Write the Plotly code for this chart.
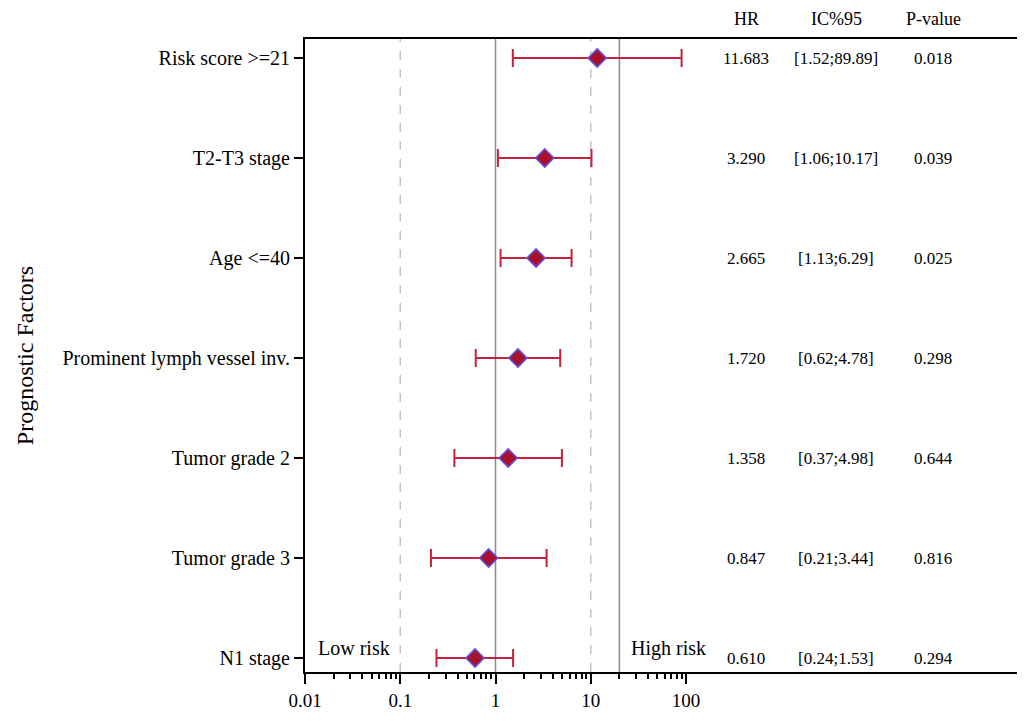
import numpy as np
import plotly.graph_objects as go

factors = ["Risk score >=21", "T2-T3 stage", "Age <=40", "Prominent lymph vessel inv.",
           "Tumor grade 2", "Tumor grade 3", "N1 stage"]
hr = [11.683, 3.290, 2.665, 1.720, 1.358, 0.847, 0.610]
ci_low = [1.52, 1.06, 1.13, 0.62, 0.37, 0.21, 0.24]
ci_high = [89.89, 10.17, 6.29, 4.78, 4.98, 3.44, 1.53]
pvals = [0.018, 0.039, 0.025, 0.298, 0.644, 0.816, 0.294]
ci_text = ["[1.52;89.89]", "[1.06;10.17]", "[1.13;6.29]", "[0.62;4.78]",
           "[0.37;4.98]", "[0.21;3.44]", "[0.24;1.53]"]
hr_text = ["11.683", "3.290", "2.665", "1.720", "1.358", "0.847", "0.610"]
p_text = ["0.018", "0.039", "0.025", "0.298", "0.644", "0.816", "0.294"]
table_headers = ["HR", "IC%95", "P-value"]
x_tickvals = [0.01, 0.1, 1, 10, 100]
x_ticktext = ["0.01", "0.1", "1", "10", "100"]
ref_solid = [1, 20]
ref_dashed = [0.1, 10]
risk_labels = ["Low risk", "High risk"]

FONT = "Liberation Serif"
OFF = 8  # page body margin
W, H = 1025 - OFF, 721 - OFF
L, R, T, B = 305 - OFF, 0, 39 - OFF, 49
pw = W - L - R
dec = 95.25
xmax = -2 + pw / dec

ypos = list(range(len(factors)))
hr_a = np.array(hr)
err_plus = np.array(ci_high) - hr_a
err_minus = hr_a - np.array(ci_low)

fig = go.Figure()
fig.add_trace(go.Scatter(
    x=hr, y=ypos, mode="markers",
    marker=dict(symbol="diamond", size=14, color="#A8102E",
                line=dict(color="#5B55E0", width=1.5)),
    error_x=dict(type="data", symmetric=False, array=err_plus, arrayminus=err_minus,
                 color="#C8203C", thickness=2, width=9),
    showlegend=False, hoverinfo="skip"))

shapes = []
for v in ref_solid:
    shapes.append(dict(type="line", xref="x", yref="paper", x0=v, x1=v,
                       y0=0, y1=1, line=dict(color="#8a8a8a", width=1.5), layer="below"))
for v in ref_dashed:
    shapes.append(dict(type="line", xref="x", yref="paper", x0=v, x1=v,
                       y0=0, y1=1, line=dict(color="#c4c4c4", width=1.5, dash="dash"), layer="below"))

def px_to_paper(px):
    return (px - OFF - L) / pw

annotations = []
col_x = [746, 836, 933]
for cx, h in zip(col_x, table_headers):
    annotations.append(dict(x=px_to_paper(cx), y=1, xref="paper", yref="paper", yanchor="bottom",
                            xanchor="center", yshift=8, text=h, showarrow=False,
                            font=dict(family=FONT, size=18, color="black")))
for i in range(len(factors)):
    for cx, txt in zip(col_x, [hr_text[i], ci_text[i], p_text[i]]):
        annotations.append(dict(x=px_to_paper(cx), y=i, xref="paper", yref="y", text=txt,
                                xanchor="center", showarrow=False,
                                font=dict(family=FONT, size=17, color="black")))
annotations.append(dict(x=px_to_paper(316), y=5.9, xref="paper", yref="y", xanchor="left",
                        text=risk_labels[0], showarrow=False,
                        font=dict(family=FONT, size=20, color="black")))
annotations.append(dict(x=px_to_paper(629), y=5.9, xref="paper", yref="y", xanchor="left",
                        text=risk_labels[1], showarrow=False,
                        font=dict(family=FONT, size=20, color="black")))

minor_vals = []
for d in [0.01, 0.1, 1, 10]:
    for k in range(2, 10):
        minor_vals.append(d * k)

fig.update_layout(
    width=W, height=H,
    margin=dict(l=L, r=R, t=T, b=B, autoexpand=False),
    plot_bgcolor="white", paper_bgcolor="white",
    shapes=shapes, annotations=annotations,
    xaxis=dict(type="log", range=[-2, xmax], tickmode="array", tickvals=x_tickvals,
               ticktext=x_ticktext, ticks="outside", ticklen=10, tickwidth=2, tickcolor="black",
               showline=True, linecolor="black", linewidth=2, mirror=True,
               showgrid=False, zeroline=False, automargin=False,
               tickfont=dict(family=FONT, size=19, color="black"),
               minor=dict(tickmode="array", tickvals=minor_vals, ticks="outside",
                          ticklen=5, tickwidth=1.5, tickcolor="black", showgrid=False)),
    yaxis=dict(range=[6.14, -0.19], tickmode="array", tickvals=ypos, ticktext=factors,
               ticks="outside", ticklen=9, tickwidth=1.5, tickcolor="black",
               showline=True, linecolor="black", linewidth=2, mirror=False,
               showgrid=False, zeroline=False, automargin=False,
               tickfont=dict(family=FONT, size=20, color="black"),
               title=dict(text="Prognostic Factors", standoff=22,
                          font=dict(family=FONT, size=24, color="black"))),
)

fig.write_html("out.html")
